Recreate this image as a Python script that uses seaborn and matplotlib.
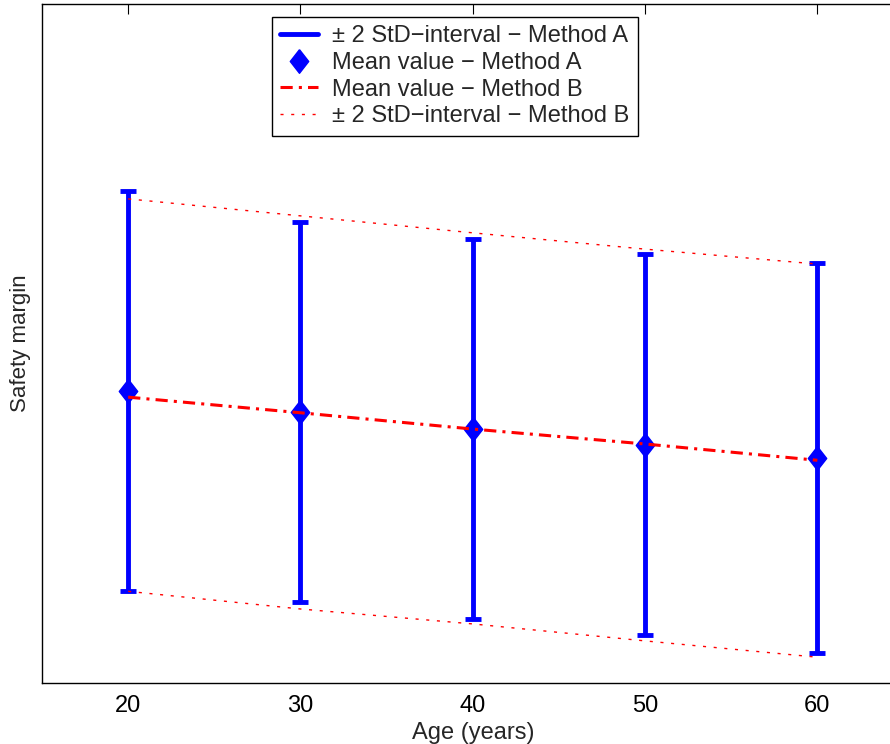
import numpy as np
import pandas as pd
import matplotlib
matplotlib.use("Agg")
import matplotlib.pyplot as plt
import seaborn as sns
from matplotlib.lines import Line2D

# values (arbitrary y units, no y ticks shown)
ages = [20, 30, 40, 50, 60]
mean_a = [4.30, 3.99, 3.74, 3.51, 3.31]
two_sd_a = [2.95, 2.80, 2.80, 2.81, 2.87]
mean_b = [4.21, 3.98, 3.74, 3.52, 3.28]
upper_b = [7.13, 6.88, 6.63, 6.39, 6.17]
lower_b = [1.35, 1.09, 0.87, 0.62, 0.38]

labels = ["\u00b1 2 StD\u2212interval \u2212 Method A",
          "Mean value \u2212 Method A",
          "Mean value \u2212 Method B",
          "\u00b1 2 StD\u2212interval \u2212 Method B"]

df_b = pd.DataFrame({"Age": ages, "Mean": mean_b, "Upper": upper_b, "Lower": lower_b})

sns.set_style("white")
plt.rcParams['font.family'] = ['Liberation Sans', 'DejaVu Sans']

fig = plt.figure(figsize=(8.9, 7.44), dpi=100)
# axes runs past the right edge like the cropped reference
ax = fig.add_axes([0.0472, 0.082, 0.968, 0.9126])

diamond = [(0, 1), (0.78, 0), (0, -1), (-0.78, 0), (0, 1)]

# Method A: error bars and diamond means
ax.errorbar(ages, mean_a, yerr=np.array(two_sd_a), fmt='none', ecolor='blue',
            elinewidth=3.5, capsize=6, capthick=3.5, zorder=2)
ax.plot(ages, mean_a, linestyle='none', marker=diamond, markersize=17,
        color='blue', zorder=3)

# Method B: mean and interval lines
sns.lineplot(data=df_b, x="Age", y="Mean", ax=ax, color='red', lw=2.2,
             linestyle=(0, (4, 2, 1, 2)), zorder=4)
sns.lineplot(data=df_b, x="Age", y="Upper", ax=ax, color='red', lw=1.0,
             linestyle=(0, (2.2, 5.5)), zorder=4)
sns.lineplot(data=df_b, x="Age", y="Lower", ax=ax, color='red', lw=1.0,
             linestyle=(0, (2.2, 5.5)), zorder=4)

ax.set_xlim(15, 65)
ax.set_ylim(0, 10)
ax.set_xticks(ages)
ax.set_yticks([])
ax.tick_params(axis='x', direction='in', length=7, width=0.8, top=True,
               labelsize=17, colors='black', pad=9)
for side in ['left', 'bottom', 'top', 'right']:
    ax.spines[side].set_color('black')
    ax.spines[side].set_linewidth(1.0)

ax.set_xlabel("Age (years)", fontsize=17, labelpad=3)
ax.set_ylabel("Safety margin", fontsize=16, labelpad=8)

handles = [
    Line2D([], [], color='blue', lw=3.5),
    Line2D([], [], color='blue', linestyle='none', marker=diamond, markersize=17),
    Line2D([], [], color='red', lw=2.2, linestyle=(0, (4, 2, 1, 2))),
    Line2D([], [], color='red', lw=1.0, linestyle=(0, (2.2, 5.5))),
]
leg = fig.legend(handles, labels, loc='upper left',
                 bbox_to_anchor=(272 / 890, 1 - 17 / 744),
                 fontsize=17, frameon=True, fancybox=False, framealpha=1,
                 edgecolor='black', handlelength=1.6, handletextpad=0.6,
                 labelspacing=0.2, borderpad=0.35, borderaxespad=0)
leg.get_frame().set_linewidth(1.0)

plt.savefig("out.png", dpi=100)
plt.close()
